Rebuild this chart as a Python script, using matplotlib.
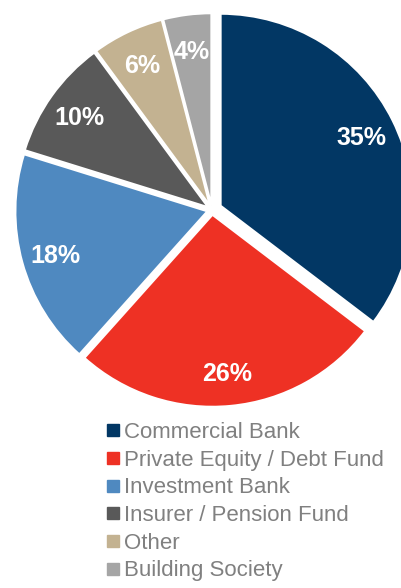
import matplotlib
matplotlib.use('Agg')
import matplotlib.pyplot as plt
from matplotlib.lines import Line2D

plt.rcParams['font.family'] = ['Liberation Sans', 'DejaVu Sans']

# data
categories = ['Commercial Bank', 'Private Equity / Debt Fund', 'Investment Bank',
              'Insurer / Pension Fund', 'Other', 'Building Society']
shares = [35, 26, 18, 10, 6, 4]
pct_labels = ['35%', '26%', '18%', '10%', '6%', '4%']
colors = ['#023764', '#ee3124', '#4f89c0', '#595959', '#c3b291', '#a5a5a5']

W, H = 402, 588
fig = plt.figure(figsize=(W / 100, H / 100), dpi=100)

# pie centre and radius in pixels
cx, cy, rad = 212, 210, 192
ax = fig.add_axes([0, 0, 1, 1])
ax.axis('off')

lab = iter(pct_labels)
wedges, texts, autotexts = ax.pie(
    shares, colors=colors, startangle=90, counterclock=False,
    explode=[0.05, 0.025, 0.025, 0.025, 0.025, 0.025],
    autopct=lambda p: next(lab), pctdistance=0.82,
    wedgeprops=dict(edgecolor='white', linewidth=1.5),
    textprops=dict(color='white', fontsize=18, fontweight='bold'))
for t in autotexts:
    t.set_va('center_baseline')
ax.set_xlim(-cx / rad, (W - cx) / rad)
ax.set_ylim(-(H - cy) / rad, cy / rad)
ax.set_aspect('auto')

handles = [Line2D([], [], marker='s', linestyle='none', color=c, markersize=8.6)
           for c in colors]
leg = ax.legend(handles, categories, loc='upper left',
                bbox_to_anchor=(106 / W, 1 - 422 / H), bbox_transform=fig.transFigure,
                frameon=False, fontsize=16, borderpad=0, borderaxespad=0,
                handlelength=0.6, handletextpad=0.2, labelspacing=0.3)
for t in leg.get_texts():
    t.set_color('#808080')

fig.savefig('out.png', dpi=100)
